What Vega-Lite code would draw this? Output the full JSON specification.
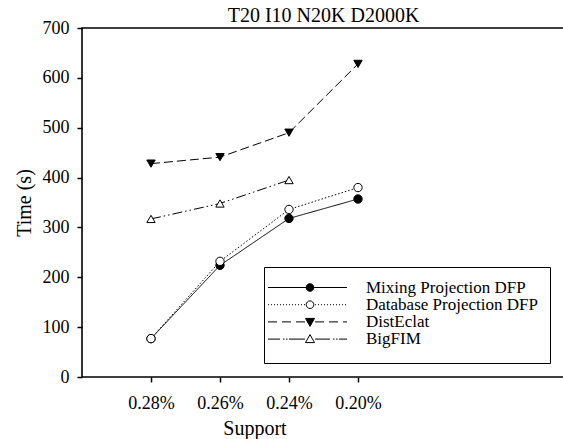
{
  "$schema": "https://vega.github.io/schema/vega-lite/v6.json",
  "autosize": "none",
  "padding": {"left": 82, "top": 28, "right": 0, "bottom": 62},
  "width": 483,
  "height": 349,
  "title": {
    "text": "T20 I10 N20K D2000K",
    "font": "Liberation Serif",
    "fontSize": 20,
    "fontWeight": "normal",
    "color": "black",
    "anchor": "middle",
    "offset": -7
  },
  "data": {
    "values": [
      {"support": "0.28%", "series": "Mixing Projection DFP", "time": 77},
      {"support": "0.26%", "series": "Mixing Projection DFP", "time": 224},
      {"support": "0.24%", "series": "Mixing Projection DFP", "time": 318},
      {"support": "0.20%", "series": "Mixing Projection DFP", "time": 357},
      {"support": "0.28%", "series": "Database Projection DFP", "time": 77},
      {"support": "0.26%", "series": "Database Projection DFP", "time": 232},
      {"support": "0.24%", "series": "Database Projection DFP", "time": 336},
      {"support": "0.20%", "series": "Database Projection DFP", "time": 380},
      {"support": "0.28%", "series": "DistEclat", "time": 428},
      {"support": "0.26%", "series": "DistEclat", "time": 441},
      {"support": "0.24%", "series": "DistEclat", "time": 490},
      {"support": "0.20%", "series": "DistEclat", "time": 628},
      {"support": "0.28%", "series": "BigFIM", "time": 317},
      {"support": "0.26%", "series": "BigFIM", "time": 348},
      {"support": "0.24%", "series": "BigFIM", "time": 395}
    ]
  },
  "encoding": {
    "x": {
      "field": "support",
      "type": "ordinal",
      "sort": ["0.28%", "0.26%", "0.24%", "0.20%"],
      "scale": {"type": "point", "range": [69, 276], "padding": 0},
      "axis": {
        "title": "Support",
        "labelAngle": 0,
        "labelPadding": 12,
        "titlePadding": 6
      }
    },
    "y": {
      "field": "time",
      "type": "quantitative",
      "scale": {"domain": [0, 700], "nice": false, "zero": true},
      "axis": {
        "title": "Time (s)",
        "values": [0, 100, 200, 300, 400, 500, 600, 700],
        "labelPadding": 8,
        "titlePadding": 8
      }
    }
  },
  "layer": [
    {
      "mark": {"type": "line", "stroke": "black", "strokeWidth": 1},
      "encoding": {
        "detail": {"field": "series"},
        "strokeDash": {
          "field": "series",
          "scale": {
            "domain": ["Mixing Projection DFP", "Database Projection DFP", "DistEclat", "BigFIM"],
            "range": [[1, 0], [1.5, 2], [9, 4], [10, 3, 1.5, 3, 1.5, 3]]
          },
          "legend": null
        }
      }
    },
    {
      "mark": {"type": "point", "filled": true, "stroke": "black", "strokeWidth": 1, "size": 70, "opacity": 1},
      "encoding": {
        "fill": {
          "field": "series",
          "scale": {
            "domain": ["Mixing Projection DFP", "Database Projection DFP", "DistEclat", "BigFIM"],
            "range": ["black", "white", "black", "white"]
          },
          "legend": null
        },
        "shape": {
          "field": "series",
          "scale": {
            "domain": ["Mixing Projection DFP", "Database Projection DFP", "DistEclat", "BigFIM"],
            "range": ["circle", "circle", "triangle-down", "triangle-up"]
          },
          "legend": null
        }
      }
    },
    {
      "description": "Key: an empty layer whose shape scale holds line-and-marker glyphs",
      "data": {"values": []},
      "mark": {"type": "point", "filled": true, "stroke": "black", "strokeWidth": 1, "opacity": 1},
      "encoding": {
        "fill": {
          "field": "series",
          "type": "nominal",
          "scale": {
            "domain": ["Mixing Projection DFP", "Database Projection DFP", "DistEclat", "BigFIM"],
            "range": ["black", "white", "black", "white"]
          },
          "legend": {
            "title": " ", "titleOrient": "bottom", "titleFontSize": 4, "titlePadding": 0,
            "orient": "none", "legendX": 182, "legendY": 239, "padding": 12,
            "strokeColor": "black", "fillColor": "white", "rowPadding": -0.8,
            "symbolSize": 4, "symbolStrokeColor": "black", "symbolStrokeWidth": 1, "symbolOpacity": 1,
            "labelFont": "Liberation Serif", "labelFontSize": 17, "labelColor": "black", "labelLimit": 300,
            "encoding": {
              "symbols": {
                "x": {"value": 34},
                "stroke": {"value": "black"},
                "strokeWidth": {"value": 1},
                "opacity": {"value": 1}
              },
              "labels": {"x": {"value": 90}}
            }
          }
        },
        "shape": {
          "field": "series",
          "type": "nominal",
          "scale": {
            "domain": ["Mixing Projection DFP", "Database Projection DFP", "DistEclat", "BigFIM"],
            "range": [
              "M-42,0H37M3.8,0A3.8,3.8,0,1,1,-3.8,0A3.8,3.8,0,1,1,3.8,0Z",
              "M-42,0h1M-39,0h1M-36,0h1M-33,0h1M-30,0h1M-27,0h1M-24,0h1M-21,0h1M-18,0h1M-15,0h1M-12,0h1M-9,0h1M-6,0h1M5,0h1M8,0h1M11,0h1M14,0h1M17,0h1M20,0h1M23,0h1M26,0h1M29,0h1M32,0h1M35,0h1M3.8,0A3.8,3.8,0,1,1,-3.8,0A3.8,3.8,0,1,1,3.8,0Z",
              "M-42,0H-33M-28,0H-19M-14,0H-5M5,0H14M19,0H28M33,0H37M-4.5,-3.5L4.5,-3.5L0,4.5Z",
              "M-42,0H-30M-27,0h1.5M-24,0h1.5M-21,0H-5M5,0H20M23,0h1.5M26,0h1.5M29,0H37M0,-4.5L4.5,3.5L-4.5,3.5Z"
            ]
          },
          "legend": {
            "title": " ", "titleOrient": "bottom", "titleFontSize": 4, "titlePadding": 0,
            "orient": "none", "legendX": 182, "legendY": 239, "padding": 12,
            "strokeColor": "black", "fillColor": "white", "rowPadding": -0.8,
            "symbolSize": 4, "symbolStrokeColor": "black", "symbolStrokeWidth": 1, "symbolOpacity": 1,
            "labelFont": "Liberation Serif", "labelFontSize": 17, "labelColor": "black", "labelLimit": 300,
            "encoding": {
              "symbols": {
                "x": {"value": 34},
                "stroke": {"value": "black"},
                "strokeWidth": {"value": 1},
                "opacity": {"value": 1}
              },
              "labels": {"x": {"value": 90}}
            }
          }
        }
      }
    }
  ],
  "resolve": {"scale": {"shape": "independent", "fill": "independent"}},
  "config": {
    "view": {"stroke": "black", "strokeWidth": 1.6},
    "axis": {
      "domain": false,
      "grid": false,
      "ticks": true,
      "tickColor": "black",
      "tickSize": 5,
      "tickWidth": 1.5,
      "labelFont": "Liberation Serif",
      "labelFontSize": 18,
      "labelColor": "black",
      "titleFont": "Liberation Serif",
      "titleFontSize": 20,
      "titleFontWeight": "normal",
      "titleColor": "black"
    }
  }
}
